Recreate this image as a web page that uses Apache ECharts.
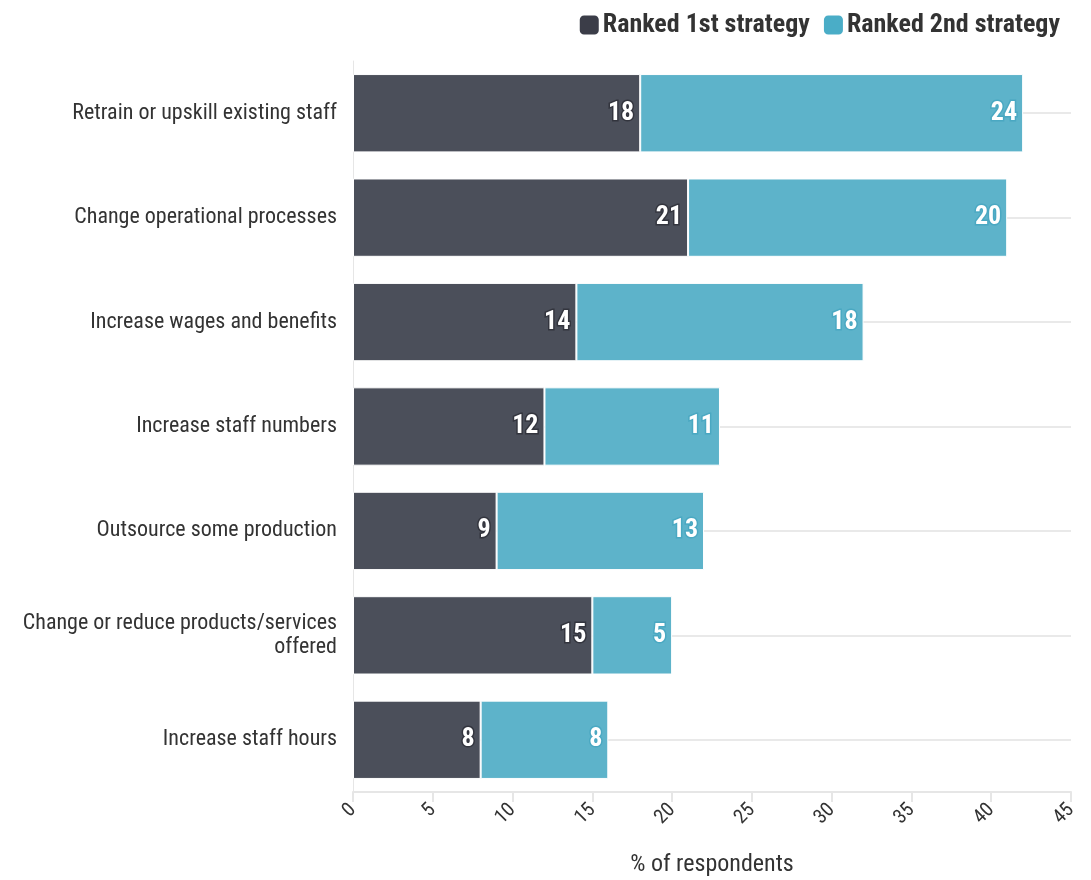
<!DOCTYPE html>
<html>
<head>
<meta charset="utf-8">
<script src="https://cdn.jsdelivr.net/npm/echarts@6/dist/echarts.min.js"></script>
<style>html,body{margin:0;padding:0;background:#fff}#c{width:1091px;height:880px}</style>
</head>
<body>
<div id="c"></div>
<script>
var categories = [
  "Retrain or upskill existing staff",
  "Change operational processes",
  "Increase wages and benefits",
  "Increase staff numbers",
  "Outsource some production",
  "Change or reduce products/services\noffered",
  "Increase staff hours"
];
var ranked1st = [18, 21, 14, 12, 9, 15, 8];
var ranked2nd = [24, 20, 18, 11, 13, 5, 8];
var xTicks = { min: 0, max: 45, interval: 5 };
var seriesNames = ["Ranked 1st strategy", "Ranked 2nd strategy"];

var FONT = "'Roboto Condensed','Liberation Sans Narrow','DejaVu Sans Condensed',Roboto,sans-serif";
var chart = echarts.init(document.getElementById('c'), null, { renderer: 'canvas' });
function lbl(border) {
  return {
    show: true, position: 'insideRight', distance: 6,
    color: '#fff', fontFamily: FONT, fontWeight: 'bold', fontSize: 26,
    textBorderColor: border, textBorderWidth: 3
  };
}
chart.setOption({
  animation: false,
  textStyle: { fontFamily: FONT },
  legend: {
    top: 7, right: 26, itemWidth: 21, itemHeight: 21, itemGap: 12,
    icon: 'roundRect',
    textStyle: { fontFamily: FONT, fontWeight: 'bold', fontSize: 26, color: '#333', padding: [0, 0, 0, -2] },
    data: [
      { name: seriesNames[0], itemStyle: { color: '#3b3d48' } },
      { name: seriesNames[1], itemStyle: { color: '#4aadc7' } }
    ]
  },
  grid: { left: 353, right: 20, top: 61, bottom: 88, outerBoundsMode: 'none', containLabel: false },
  xAxis: {
    type: 'value', min: xTicks.min, max: xTicks.max, interval: xTicks.interval,
    name: '% of respondents', nameLocation: 'middle', nameGap: 61,
    nameTextStyle: { fontFamily: FONT, fontSize: 24, color: '#333' },
    axisLine: { show: true, lineStyle: { color: '#e6e6e6', width: 2 } },
    axisTick: { show: true, length: 10, lineStyle: { color: '#e6e6e6', width: 2 } },
    splitLine: { show: false },
    axisLabel: { rotate: 45, fontFamily: FONT, fontSize: 20, color: '#333', margin: 15 }
  },
  yAxis: {
    type: 'category', data: categories, inverse: true,
    axisLine: { show: true, lineStyle: { color: '#e6e6e6' } },
    axisTick: { show: false },
    splitLine: { show: true, alignWithLabel: true, lineStyle: { color: '#e9e9e9', width: 2 } },
    axisLabel: { fontFamily: FONT, fontSize: 22, color: '#333', margin: 16, lineHeight: 24, align: 'right' }
  },
  series: [
    {
      name: seriesNames[0], type: 'bar', stack: 'total', data: ranked1st,
      barCategoryGap: '25%',
      itemStyle: { color: '#4b4f5a', borderColor: '#fff', borderWidth: 1 },
      label: lbl('#33353e')
    },
    {
      name: seriesNames[1], type: 'bar', stack: 'total', data: ranked2nd,
      barCategoryGap: '25%',
      itemStyle: { color: '#5db3ca', borderColor: '#fff', borderWidth: 1 },
      label: lbl('#4aa8c2')
    }
  ]
});
</script>
</body>
</html>
